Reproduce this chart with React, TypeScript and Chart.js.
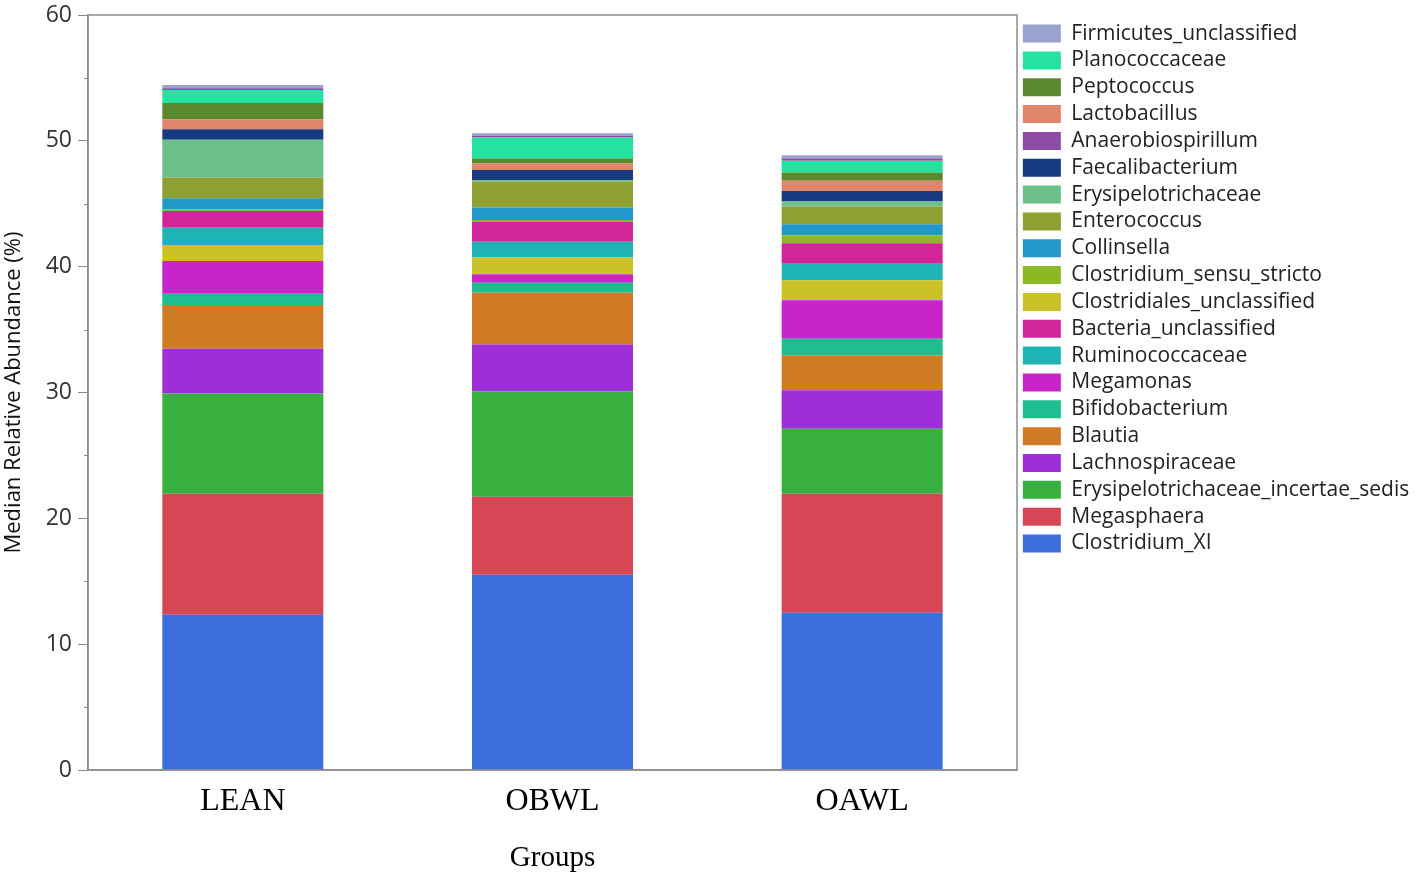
import React, { useEffect, useRef } from 'react';
import { Chart, registerables } from 'chart.js';

Chart.register(...registerables);

// Categories
const groups = ['LEAN', 'OBWL', 'OAWL'];

// Series values (median relative abundance, %) for [LEAN, OBWL, OAWL], stacked bottom -> top
const clostridiumXI = [12.33, 15.52, 12.49];
const megasphaera = [9.63, 6.2, 9.47];
const erysipelotrichaceaeIncertaeSedis = [7.96, 8.38, 5.15];
const lachnospiraceae = [3.56, 3.72, 3.07];
const blautia = [3.47, 4.11, 2.76];
const bifidobacterium = [0.9, 0.8, 1.33];
const megamonas = [2.6, 0.66, 3.07];
const clostridialesUnclassified = [1.27, 1.33, 1.59];
const ruminococcaceae = [1.38, 1.27, 1.31];
const bacteriaUnclassified = [1.33, 1.56, 1.62];
const clostridiumSensuStricto = [0.13, 0.16, 0.63];
const collinsella = [0.88, 0.99, 0.88];
const enterococcus = [1.64, 2.07, 1.41];
const erysipelotrichaceae = [3.0, 0.12, 0.39];
const faecalibacterium = [0.85, 0.8, 0.85];
const lactobacillus = [0.79, 0.51, 0.8];
const peptococcus = [1.28, 0.4, 0.67];
const planococcaceae = [1.03, 1.67, 0.92];
const anaerobiospirillum = [0.15, 0.12, 0.19];
const firmicutesUnclassified = [0.25, 0.22, 0.26];

// Legend order (top -> bottom)
const legendOrder = [
  'Firmicutes_unclassified',
  'Planococcaceae',
  'Peptococcus',
  'Lactobacillus',
  'Anaerobiospirillum',
  'Faecalibacterium',
  'Erysipelotrichaceae',
  'Enterococcus',
  'Collinsella',
  'Clostridium_sensu_stricto',
  'Clostridiales_unclassified',
  'Bacteria_unclassified',
  'Ruminococcaceae',
  'Megamonas',
  'Bifidobacterium',
  'Blautia',
  'Lachnospiraceae',
  'Erysipelotrichaceae_incertae_sedis',
  'Megasphaera',
  'Clostridium_XI',
];

// Y ticks
const yMajorTicks = [0, 10, 20, 30, 40, 50, 60];
const yMinorTicks = [5, 15, 25, 35, 45, 55];

const seriesList: { label: string; data: number[]; color: string }[] = [
  { label: 'Clostridium_XI', data: clostridiumXI, color: '#3D6EDE' },
  { label: 'Megasphaera', data: megasphaera, color: '#D64654' },
  { label: 'Erysipelotrichaceae_incertae_sedis', data: erysipelotrichaceaeIncertaeSedis, color: '#38B040' },
  { label: 'Lachnospiraceae', data: lachnospiraceae, color: '#9E2ED8' },
  { label: 'Blautia', data: blautia, color: '#D07A26' },
  { label: 'Bifidobacterium', data: bifidobacterium, color: '#1FBE90' },
  { label: 'Megamonas', data: megamonas, color: '#C824C8' },
  { label: 'Clostridiales_unclassified', data: clostridialesUnclassified, color: '#CAC226' },
  { label: 'Ruminococcaceae', data: ruminococcaceae, color: '#1FB4B4' },
  { label: 'Bacteria_unclassified', data: bacteriaUnclassified, color: '#D3259A' },
  { label: 'Clostridium_sensu_stricto', data: clostridiumSensuStricto, color: '#8CB824' },
  { label: 'Collinsella', data: collinsella, color: '#2198C8' },
  { label: 'Enterococcus', data: enterococcus, color: '#8DA031' },
  { label: 'Erysipelotrichaceae', data: erysipelotrichaceae, color: '#6CC08C' },
  { label: 'Faecalibacterium', data: faecalibacterium, color: '#173A80' },
  { label: 'Lactobacillus', data: lactobacillus, color: '#E0856A' },
  { label: 'Peptococcus', data: peptococcus, color: '#5B8A2E' },
  { label: 'Planococcaceae', data: planococcaceae, color: '#24E3A0' },
  { label: 'Anaerobiospirillum', data: anaerobiospirillum, color: '#8E4BA5' },
  { label: 'Firmicutes_unclassified', data: firmicutesUnclassified, color: '#9AA3CE' },
];

const framePlugin = {
  id: 'frameAndMinorTicks',
  afterDatasetsDraw(chart: any) {
    const { ctx, chartArea } = chart;
    const yScale = chart.scales.y;
    ctx.save();
    ctx.strokeStyle = '#8c8c8c';
    ctx.lineWidth = 1.5;
    ctx.strokeRect(chartArea.left, chartArea.top, chartArea.right - chartArea.left, chartArea.bottom - chartArea.top);
    ctx.lineWidth = 1;
    ctx.strokeStyle = '#888';
    yMinorTicks.forEach((v) => {
      const py = Math.round(yScale.getPixelForValue(v)) + 0.5;
      ctx.beginPath();
      ctx.moveTo(chartArea.left - 4, py);
      ctx.lineTo(chartArea.left, py);
      ctx.stroke();
    });
    ctx.restore();
  },
};

export default function App() {
  const canvasRef = useRef<HTMLCanvasElement | null>(null);

  useEffect(() => {
    if (!canvasRef.current) return;
    const chart = new Chart(canvasRef.current, {
      type: 'bar',
      data: {
        labels: groups,
        datasets: seriesList.map((s) => ({
          label: s.label,
          data: s.data,
          backgroundColor: s.color,
          borderColor: s.color,
          borderWidth: 0,
          barPercentage: 0.52,
          categoryPercentage: 1.0,
        })),
      },
      options: {
        responsive: false,
        animation: false,
        layout: { padding: { top: 15, right: 0, left: 0, bottom: 0 } },
        plugins: {
          tooltip: { enabled: false },
          legend: {
            position: 'right',
            align: 'start',
            maxWidth: 401,
            title: { display: true, text: ' ', font: { size: 1 }, padding: { top: 1, bottom: 0 } },
            labels: {
              boxWidth: 38,
              boxHeight: 18,
              padding: 5.84,
              color: '#222',
              font: { family: 'Open Sans', size: 21 },
              sort: (a: any, b: any) => legendOrder.indexOf(a.text) - legendOrder.indexOf(b.text),
            },
          },
        },
        scales: {
          x: {
            stacked: true,
            grid: { display: false, drawTicks: false },
            border: { color: '#8c8c8c', width: 1.5 },
            ticks: { color: '#000', font: { family: 'Liberation Serif', size: 32 }, padding: 12 },
            title: {
              display: true,
              text: 'Groups',
              color: '#000',
              font: { family: 'Liberation Serif', size: 29 },
              padding: { top: 0, bottom: 0 },
            },
            afterFit: (s: any) => {
              s.height = 106;
              s.paddingLeft = 0;
              s.paddingRight = 0;
            },
          },
          y: {
            stacked: true,
            min: 0,
            max: 60,
            afterBuildTicks: (s: any) => {
              s.ticks = yMajorTicks.map((v) => ({ value: v }));
            },
            ticks: { color: '#333', font: { family: 'Open Sans', size: 23 }, padding: 6 },
            grid: { drawOnChartArea: false, drawTicks: true, tickLength: 10, tickColor: '#888' },
            border: { color: '#8c8c8c', width: 1.5 },
            title: {
              display: true,
              text: 'Median Relative Abundance (%)',
              color: '#111',
              font: { family: 'Open Sans', size: 22 },
              padding: { top: 1, bottom: 0 },
            },
            afterFit: (s: any) => {
              s.width = 88;
              s.paddingTop = 0;
              s.paddingBottom = 0;
            },
          },
        },
      },
      plugins: [framePlugin],
    });
    return () => chart.destroy();
  }, []);

  return (
    <div style={{ position: 'absolute', left: 0, top: 0, width: 1418, height: 876, background: '#fff', overflow: 'hidden' }}>
      <canvas ref={canvasRef} width={1418} height={876} style={{ display: 'block' }} />
    </div>
  );
}
